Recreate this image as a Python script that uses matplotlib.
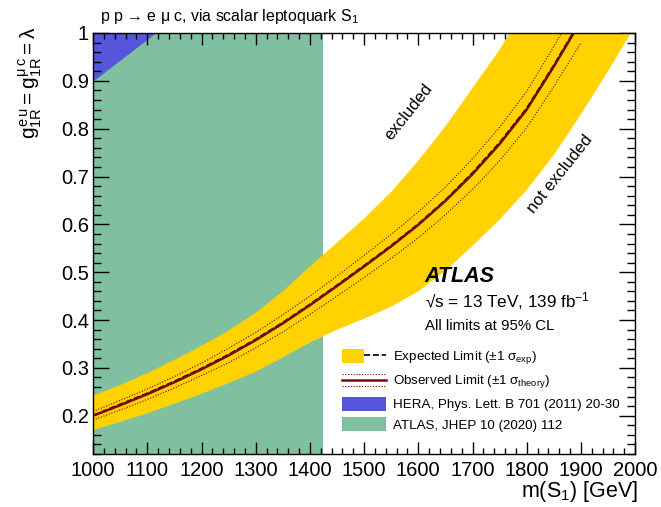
import matplotlib
matplotlib.use("Agg")
import matplotlib.pyplot as plt
from matplotlib.patches import Patch
from matplotlib.lines import Line2D
from matplotlib.legend_handler import HandlerBase, HandlerTuple
from matplotlib.ticker import MultipleLocator, FuncFormatter

plt.rcParams['font.family'] = ['Liberation Sans', 'DejaVu Sans']
plt.rcParams['mathtext.fontset'] = 'custom'
plt.rcParams['mathtext.rm'] = 'Liberation Sans'
plt.rcParams['mathtext.it'] = 'Liberation Sans'
plt.rcParams['mathtext.bf'] = 'Liberation Sans:bold'

# ---------------- data ----------------
mass_lines = [1000, 1050, 1100, 1150, 1200, 1250, 1300, 1350, 1400, 1450,
              1500, 1550, 1600, 1650, 1700, 1750, 1800, 1850, 1900]
observed = [0.200, 0.222, 0.245, 0.270, 0.297, 0.326, 0.358, 0.393, 0.431, 0.471,
            0.512, 0.554, 0.599, 0.649, 0.705, 0.768, 0.840, 0.930, 1.025]
expected = [0.201, 0.224, 0.247, 0.272, 0.299, 0.328, 0.360, 0.395, 0.433, 0.473,
            0.514, 0.556, 0.601, 0.651, 0.708, 0.771, 0.843, 0.933, 1.028]
theory_up = [0.209, 0.232, 0.256, 0.282, 0.310, 0.341, 0.374, 0.411, 0.450, 0.492,
             0.535, 0.579, 0.626, 0.678, 0.737, 0.803, 0.878, 0.972, 1.071]
theory_down = [0.191, 0.212, 0.234, 0.258, 0.284, 0.311, 0.342, 0.375, 0.412, 0.450,
               0.489, 0.529, 0.572, 0.620, 0.673, 0.733, 0.802, 0.888, 0.979]

mass_band = [1000, 1050, 1100, 1150, 1200, 1250, 1300, 1350, 1400, 1450, 1500,
             1550, 1600, 1650, 1700, 1750, 1800, 1850, 1900, 1950, 2000]
exp_up = [0.242, 0.264, 0.289, 0.317, 0.346, 0.378, 0.415, 0.460, 0.512, 0.562, 0.612,
          0.668, 0.733, 0.805, 0.885, 0.965, 1.060, 1.150, 1.250, 1.350, 1.450]
exp_down = [0.170, 0.187, 0.205, 0.225, 0.246, 0.268, 0.292, 0.322, 0.353, 0.380, 0.403,
            0.428, 0.460, 0.503, 0.555, 0.610, 0.672, 0.745, 0.830, 0.920, 1.015]

# previous constraints
atlas_prev_mass = [1000, 1425]
hera_mass = [1000, 1115]
hera_coupling = [0.90, 1.00]

xticks = [1000, 1100, 1200, 1300, 1400, 1500, 1600, 1700, 1800, 1900, 2000]
yticks = [0.2, 0.3, 0.4, 0.5, 0.6, 0.7, 0.8, 0.9, 1.0]

# ---------------- colours ----------------
c_green = '#80C0A0'
c_blue = '#5656DC'
c_yellow = '#FFD200'
c_obs = '#7A0A0A'

fig = plt.figure(figsize=(6.61, 5.07), dpi=100)
ax = fig.add_axes([93.1 / 661, 53 / 507, 542 / 661, 421 / 507])
xmin, xmax, ymin, ymax = 1000, 2000, 0.12, 1.0

ax.axvspan(atlas_prev_mass[0], atlas_prev_mass[1], color=c_green, lw=0, zorder=1)
ax.fill_between(hera_mass, hera_coupling, ymax, color=c_blue, lw=0, zorder=2)
ax.fill_between(mass_band, exp_down, exp_up, color=c_yellow, lw=0, zorder=3)
ax.plot(mass_lines, theory_up, color=c_obs, ls=(0, (1, 1.5)), lw=0.8, zorder=4)
ax.plot(mass_lines, theory_down, color=c_obs, ls=(0, (1, 1.5)), lw=0.8, zorder=4)
ax.plot(mass_lines, expected, color='black', ls='--', lw=1.2, zorder=5)
ax.plot(mass_lines, observed, color=c_obs, ls='-', lw=1.8, zorder=6)

ax.set_xlim(xmin, xmax)
ax.set_ylim(ymin, ymax)
ax.set_xticks(xticks)
ax.set_yticks(yticks)
ax.xaxis.set_minor_locator(MultipleLocator(20))
ax.yaxis.set_minor_locator(MultipleLocator(0.02))
ax.yaxis.set_major_formatter(FuncFormatter(lambda v, p: '%g' % round(v, 2)))
ax.tick_params(axis='both', which='both', direction='in', top=True, right=True,
               labelsize=14.5, width=1.0, colors='black')
ax.tick_params(axis='x', which='major', length=8.6, pad=5)
ax.tick_params(axis='x', which='minor', length=4.3)
ax.tick_params(axis='y', which='major', length=11.5, pad=3)
ax.tick_params(axis='y', which='minor', length=5.5)
for s in ax.spines.values():
    s.set_linewidth(1.0)
    s.set_zorder(10)
ax.set_axisbelow(False)

# labels
fig.text(638 / 661, (507 - 497) / 507, r'm(S$_1$) [GeV]', ha='right', va='baseline', fontsize=15.5)
fig.text(30 / 661, (507 - 26) / 507, r'$g^{e\,u}_{1R} = g^{\mu\,c}_{1R} = \lambda$',
         rotation=90, ha='center', va='top', fontsize=15)
fig.text(100 / 661, (507 - 21) / 507, r'p p → e μ c, via scalar leptoquark S$_1$',
         ha='left', va='baseline', fontsize=11.4)

ax.text(0.612, 0.409, 'ATLAS', transform=ax.transAxes, fontsize=15.5,
        fontweight='bold', fontstyle='italic', ha='left', va='baseline')
ax.text(0.612, 0.349, r'√s = 13 TeV, 139 fb$^{-1}$', transform=ax.transAxes,
        fontsize=12.3, ha='left', va='baseline')
ax.text(0.612, 0.2945, 'All limits at 95% CL', transform=ax.transAxes,
        fontsize=10.8, ha='left', va='baseline')

ax.text(1582, 0.835, 'excluded', rotation=51.5, fontsize=12, ha='center', va='center',
        rotation_mode='anchor', zorder=7)
ax.text(1862, 0.706, 'not excluded', rotation=51.5, fontsize=12, ha='center', va='center',
        rotation_mode='anchor', zorder=7)


class ObsHandler(HandlerBase):
    def create_artists(self, legend, orig_handle, xdescent, ydescent, width, height,
                       fontsize, trans):
        x0, x1 = -xdescent, -xdescent + width
        y0 = -ydescent
        arts = []
        for frac, ls, lw in [(0.5, '-', 1.8), (0.92, (0, (1, 1.5)), 0.8), (0.08, (0, (1, 1.5)), 0.8)]:
            arts.append(Line2D([x0, x1], [y0 + frac * height] * 2, color=c_obs, ls=ls, lw=lw,
                               transform=trans))
        return arts


h_exp = (Patch(facecolor=c_yellow, edgecolor='none'),
         Line2D([], [], color='black', ls='--', lw=1.2))
h_obs = Line2D([], [], color=c_obs)
h_hera = Patch(facecolor=c_blue, edgecolor='none')
h_atlas = Patch(facecolor=c_green, edgecolor='none')

leg = ax.legend([h_exp, h_obs, h_hera, h_atlas],
                [r'Expected Limit ($\pm$1 $\sigma_{\rm exp}$)',
                 r'Observed Limit ($\pm$1 $\sigma_{\rm theory}$)',
                 'HERA, Phys. Lett. B 701 (2011) 20-30',
                 'ATLAS, JHEP 10 (2020) 112'],
                handler_map={tuple: HandlerTuple(ndivide=None, pad=0), h_obs: ObsHandler()},
                loc='upper left', bbox_to_anchor=(0.459, 0.250), frameon=False,
                fontsize=9.6, handlelength=3.3, handleheight=1.25, handletextpad=0.55,
                labelspacing=0.47, borderaxespad=0, borderpad=0)
leg.set_zorder(8)

fig.savefig('out.png', dpi=100)
